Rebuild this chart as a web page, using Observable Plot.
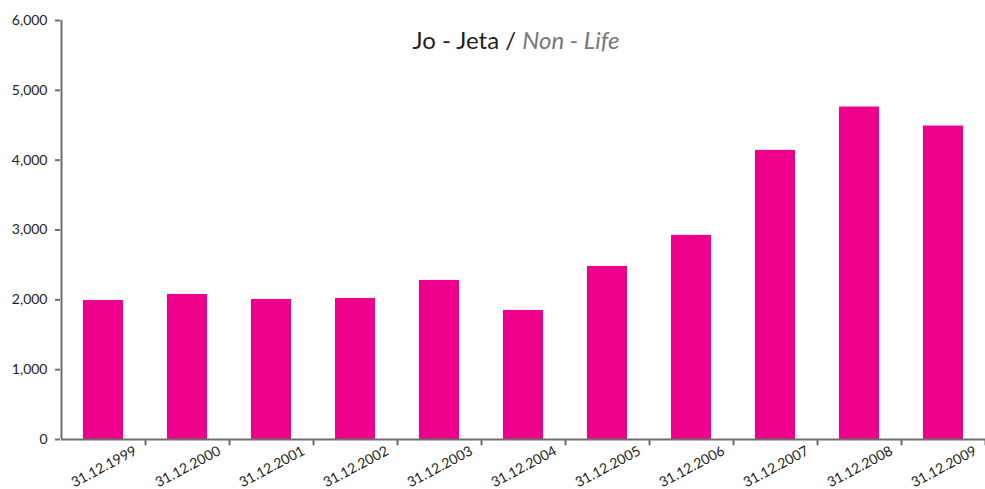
<!DOCTYPE html>
<html>
<head>
<meta charset="utf-8">
<script src="https://cdn.jsdelivr.net/npm/d3@7"></script>
<script src="https://cdn.jsdelivr.net/npm/@observablehq/plot@0.6"></script>
<style>
  body { margin: 0; background: #fff; }
  #wrap { position: relative; width: 985px; height: 489px; }
  #title { position: absolute; top: 25px; left: 0; width: 1032px; text-align: center;
           font-family: Lato, "Open Sans", sans-serif; font-size: 24px; color: #231f20; }
  #title i { color: #77777a; }
  svg { font-family: Lato, "Open Sans", sans-serif; }
</style>
</head>
<body>
<div id="wrap">
  <div id="chart"></div>
  <div id="title">Jo - Jeta / <i>Non - Life</i></div>
</div>
<script>
const categories = ["31.12.1999","31.12.2000","31.12.2001","31.12.2002","31.12.2003","31.12.2004","31.12.2005","31.12.2006","31.12.2007","31.12.2008","31.12.2009"];
const values = [1990, 2077, 2005, 2020, 2278, 1848, 2478, 2923, 4140, 4761, 4489];
const yTicks = [0, 1000, 2000, 3000, 4000, 5000, 6000];

const data = categories.map((c, i) => ({date: c, value: values[i]}));
const W = 985, H = 489, ML = 61, MR = 0;
const half = (W - ML - MR) / categories.length / 2;
const axisColor = "#6d6e71";

const chart = Plot.plot({
  width: W, height: H,
  marginLeft: ML, marginRight: MR, marginTop: 20, marginBottom: 50,
  style: {fontSize: "14px", color: "#231f20", background: "#fff", overflow: "visible"},
  x: {domain: categories, padding: 0, label: null},
  y: {domain: [0, 6000], label: null},
  marks: [
    Plot.barY(data, {x: "date", y: "value", fill: "#ec008c", insetLeft: 22, insetRight: 22}),
    Plot.ruleY([0], {stroke: axisColor, strokeWidth: 2}),
    Plot.ruleX([categories[0]], {dx: -half, y1: 0, y2: 6000, stroke: axisColor, strokeWidth: 2}),
    Plot.ruleX(categories, {x: d => d, dx: half, y1: 0, y2: -90, stroke: axisColor, strokeWidth: 2}),
    Plot.axisY({ticks: yTicks, tickFormat: d3.format(","), tickSize: 5, tickPadding: 8, stroke: axisColor, strokeWidth: 2, dx: -1, label: null, fontSize: 14}),
    Plot.axisX({tickSize: 0, tickRotate: -28, dx: 32, dy: -2, fontSize: 14, label: null})
  ]
});
document.getElementById("chart").appendChild(chart);
</script>
</body>
</html>
